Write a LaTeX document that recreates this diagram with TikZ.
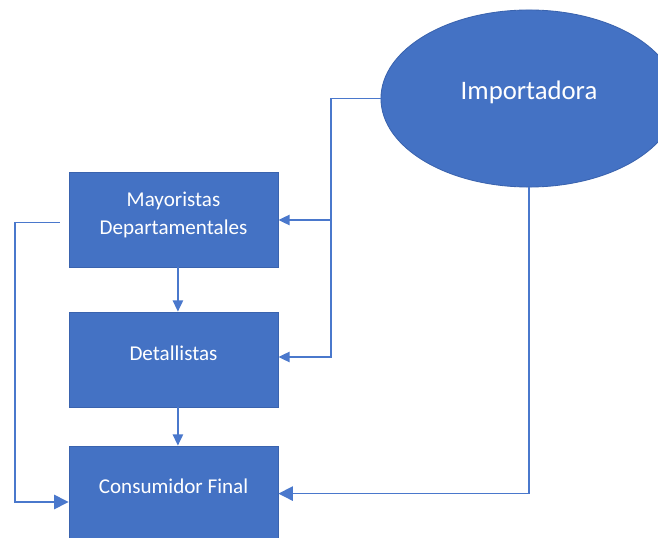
\documentclass[tikz,border=0pt]{standalone}
\usepackage{fontspec}
\setmainfont{Carlito}
\usepackage{xcolor}
\usetikzlibrary{shapes.geometric, arrows.meta, positioning, calc}

\definecolor{boxblue}{HTML}{4472C4}
\definecolor{boxline}{HTML}{3A63AE}
\definecolor{wireblue}{HTML}{4A78CC}

\begin{document}
\begin{tikzpicture}[
    x=0.025cm, y=-0.025cm,
    box/.style={rectangle, draw=boxline, line width=0.6pt, fill=boxblue, text=white, align=center, font=\fontsize{15}{20}\selectfont, minimum width=5.225cm, minimum height=2.375cm, text depth=0.3cm},
    oval/.style={ellipse, draw=boxline, line width=0.6pt, fill=boxblue, text=white, font=\fontsize{19}{22}\selectfont, minimum width=7.4cm, minimum height=4.425cm, text depth=0.4cm},
    arrow/.style={-{Triangle[length=0.28cm, width=0.26cm]}, draw=wireblue, line width=1pt},
    bigarrow/.style={-{Triangle[length=0.36cm, width=0.36cm]}, draw=wireblue, line width=1pt}
]
\clip (0,0) rectangle (658,538);
\fill[white] (0,0) rectangle (658,538);

\node[box] (may) at (173.5,219.5) {Mayoristas\\Departamentales};
\node[box] (det) at (173.5,359.5) {Detallistas};
\node[box, minimum height=2.5cm, text depth=0.5cm] (cons) at (173.5,496) {Consumidor Final};
\node[oval] (imp) at (529,98.5) {Importadora};

% points where the wires turn
\coordinate (busdet) at (331,357);
\coordinate (busmay) at (331,220);
\coordinate (lft) at (15,502);

\draw[arrow] ([xshift=0.11cm]may.south) -- ([xshift=0.11cm]det.north);
\draw[arrow] ([xshift=0.11cm]det.south) -- ([xshift=0.11cm]cons.north);
\draw[arrow] (imp.west) -| (busdet) -- (busdet -| det.east);
\draw[arrow] (busmay) -- (busmay -| may.east);
\draw[bigarrow] (imp.south) |- ([yshift=0.06cm]cons.east);
\draw[bigarrow, shorten <=0.22cm] ([yshift=-0.08cm]may.west) -| (lft) -- (lft -| cons.west);
\end{tikzpicture}
\end{document}
